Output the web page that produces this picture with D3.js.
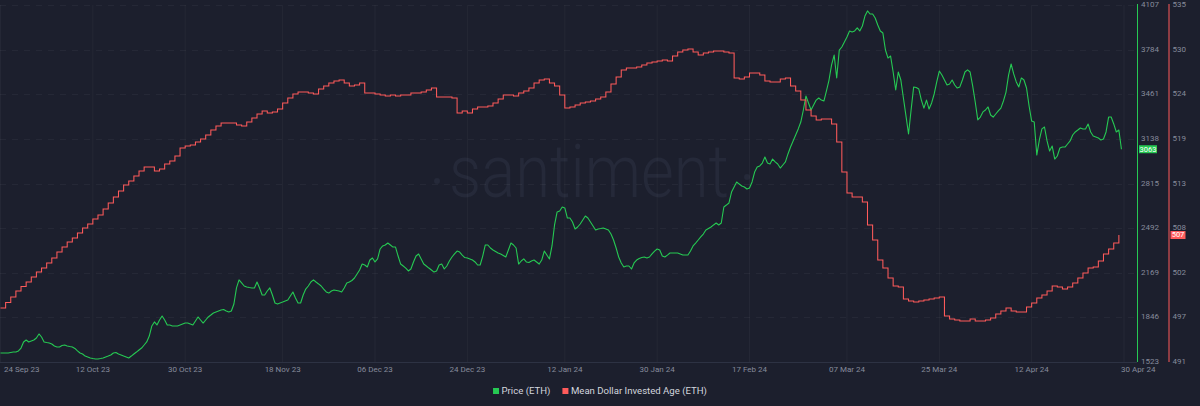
<!DOCTYPE html>
<html><head><meta charset="utf-8">
<script src="https://cdn.jsdelivr.net/npm/d3@7"></script>
<style>html,body{margin:0;padding:0;background:#1c1f2d;} svg{display:block;font-family:Roboto,"Open Sans",sans-serif;}</style>
</head><body><svg id="chart" width="1200" height="406"></svg>
<script>
// ---------- DATA ----------
const priceStart = "2023-09-24T00:00:00Z";
const priceStepHours = 12;
const priceValues = [
1588,1588,1588,1588,1592,1595,1595,1603,1624,1668,
1682,1668,1675,1682,1697,1726,1704,1668,1664,1661,
1653,1639,1632,1632,1642,1646,1639,1635,1632,1621,
1603,1588,1581,1566,1559,1552,1548,1545,1545,1548,
1552,1559,1566,1574,1588,1592,1581,1574,1566,1559,
1552,1566,1581,1595,1610,1624,1646,1668,1711,1784,
1813,1791,1827,1856,1827,1791,1791,1784,1784,1784,
1791,1798,1805,1805,1798,1791,1820,1849,1827,1805,
1827,1849,1863,1878,1885,1892,1899,1903,1892,1885,
1892,1943,2059,2117,2095,2073,2066,2062,2059,2059,
2102,2059,2008,2008,2037,2059,2008,1950,1943,1950,
1957,1965,1972,2001,2030,1986,1950,1950,2008,2051,
2073,2102,2117,2102,2088,2073,2051,2030,2022,2037,
2044,2041,2037,2030,2059,2095,2102,2113,2131,2160,
2189,2232,2225,2211,2261,2276,2247,2269,2341,2363,
2370,2384,2370,2355,2355,2290,2232,2218,2203,2182,
2196,2247,2290,2305,2269,2232,2218,2203,2189,2174,
2182,2225,2232,2196,2218,2254,2283,2305,2326,2319,
2297,2279,2276,2269,2261,2247,2225,2225,2290,2370,
2370,2348,2334,2323,2312,2305,2294,2283,2334,2384,
2370,2348,2232,2254,2269,2247,2243,2254,2261,2247,
2232,2261,2326,2297,2269,2363,2515,2609,2616,2645,
2638,2565,2565,2536,2486,2500,2522,2551,2580,2565,
2536,2507,2478,2486,2489,2493,2486,2478,2449,2406,
2348,2283,2240,2211,2218,2218,2196,2240,2261,2272,
2279,2283,2276,2283,2305,2326,2341,2334,2290,2283,
2297,2312,2312,2312,2312,2305,2297,2297,2297,2326,
2363,2384,2406,2428,2449,2478,2489,2500,2515,2529,
2515,2529,2645,2659,2674,2753,2790,2826,2811,2797,
2790,2775,2782,2826,2898,2934,2942,2963,3007,2963,
2956,2992,2971,2956,2927,2949,2971,3029,3079,3123,
3166,3210,3260,3347,3448,3398,3347,3383,3419,3434,
3419,3412,3485,3564,3673,3745,3579,3781,3803,3839,
3875,3919,3912,3919,3941,3919,3955,4027,4064,4042,
4042,4013,3962,3919,3904,3781,3723,3738,3622,3492,
3622,3564,3434,3304,3173,3347,3514,3510,3499,3419,
3361,3419,3354,3398,3463,3550,3629,3600,3564,3528,
3535,3564,3528,3506,3514,3564,3622,3637,3622,3521,
3405,3275,3296,3333,3347,3369,3311,3296,3318,3340,
3361,3412,3477,3600,3680,3608,3550,3514,3579,3564,
3506,3376,3267,3260,3021,3130,3210,3224,3123,3050,
3086,2992,3014,3072,3079,3079,3101,3123,3166,3188,
3202,3217,3210,3210,3246,3188,3159,3152,3144,3130,
3137,3188,3296,3296,3246,3188,3202,3063
];

const mdiaStart = "2023-09-24T00:00:00Z";
const mdiaStepHours = 24;
const mdiaValues = [
497.66,498.33,499.01,499.75,500.31,500.86,501.48,502.09,502.59,503.20,
503.82,504.56,505.17,505.79,506.28,506.90,507.52,508.01,508.63,509.12,
509.86,510.60,511.34,512.08,512.82,513.31,513.92,514.54,515.03,515.03,
514.54,514.79,515.40,515.77,516.39,517.38,517.62,517.75,518.12,518.49,
518.98,519.59,520.09,520.46,520.46,520.46,520.21,520.09,520.58,521.07,
521.57,521.94,521.69,521.81,522.18,522.92,523.54,524.03,524.28,524.28,
524.15,524.03,524.65,525.02,525.39,525.63,525.76,525.39,525.02,525.14,
525.39,524.15,524.15,524.03,523.91,523.78,523.91,523.78,523.91,523.91,
524.15,524.15,524.28,524.52,524.77,523.66,523.66,523.66,523.54,521.69,
521.94,521.69,522.18,522.43,522.43,522.55,522.92,523.41,523.91,523.91,
523.78,524.15,524.40,524.77,525.39,525.76,525.88,525.39,525.02,523.91,
522.31,522.43,522.68,522.92,523.05,523.17,523.41,523.66,524.28,525.26,
526.13,526.99,527.24,527.24,527.36,527.61,527.85,527.98,528.10,528.22,
528.10,528.71,529.21,529.45,529.58,529.21,528.84,529.08,529.21,529.33,
529.33,529.21,529.08,526.00,525.88,526.13,526.62,526.62,526.37,525.63,
525.51,525.51,525.88,526.00,525.02,524.40,523.29,522.06,521.32,520.83,
520.95,520.95,520.33,518.12,514.42,511.83,511.34,511.34,510.72,507.89,
506.04,503.57,502.59,501.35,500.37,500.24,498.76,498.52,498.40,498.52,
498.64,498.76,498.89,499.01,496.67,496.30,496.18,496.05,496.05,496.30,
496.05,496.05,496.18,496.42,496.92,497.29,497.66,497.29,497.16,497.16,
497.78,498.27,498.89,499.26,499.75,500.37,500.24,500.00,500.24,500.74,
501.35,501.97,502.59,502.71,503.45,504.31,504.93,505.67,506.65
];

const xTickDates = ["2023-09-24","2023-10-12","2023-10-30","2023-11-18","2023-12-06","2023-12-24","2024-01-12","2024-01-30","2024-02-17","2024-03-07","2024-03-25","2024-04-12","2024-04-30"];
const xTickLabels = ["24 Sep 23","12 Oct 23","30 Oct 23","18 Nov 23","06 Dec 23","24 Dec 23","12 Jan 24","30 Jan 24","17 Feb 24","07 Mar 24","25 Mar 24","12 Apr 24","30 Apr 24"];
const priceTicks = [1523,1846,2169,2492,2815,3138,3461,3784,4107];
const mdiaTicks = [491,496.5,502,507.5,513,518.5,524,529.5,535];
const seriesNames = ["Price (ETH)","Mean Dollar Invested Age (ETH)"];

// ---------- LAYOUT ----------
const colors = {bg:"#1c1f2d", green:"#26c953", red:"#ff5b5b", tick:"#868b9b", grid:"rgba(255,255,255,0.04)", legend:"#d3d6de", wm:"#252939"};
const plot = {left:0, right:1137, top:5, bottom:362};

const svg = d3.select("#chart");
svg.append("rect").attr("width",1200).attr("height",406).attr("fill",colors.bg);

const x = d3.scaleUtc()
  .domain([new Date("2023-09-24T00:00:00Z"), new Date("2024-04-30T00:00:00Z")])
  .range([0.5, 1124]);
const yP = d3.scaleLinear().domain([priceTicks[0], priceTicks[priceTicks.length-1]]).range([plot.bottom, plot.top]);
const yM = d3.scaleLinear().domain([mdiaTicks[0], mdiaTicks[mdiaTicks.length-1]]).range([plot.bottom, plot.top]);

const t0p = new Date(priceStart).getTime();
const priceData = priceValues.map((v,i)=>({t:new Date(t0p + i*priceStepHours*3600e3), v}));
const t0m = new Date(mdiaStart).getTime();
const mdiaData = mdiaValues.map((v,i)=>({t:new Date(t0m + i*mdiaStepHours*3600e3), v}));

// watermark
const wm = svg.append("g");
wm.append("text").attr("x",589).attr("y",197).attr("text-anchor","middle")
  .attr("font-size",74).attr("font-weight",300).attr("fill",colors.wm)
  .attr("textLength",280).attr("lengthAdjust","spacingAndGlyphs").text("santiment");
wm.append("circle").attr("cx",437).attr("cy",181).attr("r",3).attr("fill",colors.wm);
wm.append("circle").attr("cx",747).attr("cy",177).attr("r",3).attr("fill",colors.wm);

// gridlines
const grid = svg.append("g");
grid.selectAll("line.v").data(xTickDates).join("line")
  .attr("x1",d=>x(new Date(d+"T00:00:00Z"))).attr("x2",d=>x(new Date(d+"T00:00:00Z")))
  .attr("y1",plot.top).attr("y2",plot.bottom).attr("stroke",colors.grid).attr("stroke-width",1);
grid.selectAll("line.h").data(priceTicks.slice(1)).join("line")
  .attr("x1",plot.left).attr("x2",plot.right).attr("y1",d=>Math.round(yP(d))+0.5).attr("y2",d=>Math.round(yP(d))+0.5)
  .attr("stroke","rgba(255,255,255,0.045)").attr("stroke-dasharray","6,6");

// bottom axis line
svg.append("line").attr("x1",0).attr("x2",plot.right).attr("y1",plot.bottom+0.5).attr("y2",plot.bottom+0.5)
  .attr("stroke","#2d3243").attr("stroke-width",1);

// x tick labels
const xl = svg.append("g").attr("font-size",8).attr("fill",colors.tick);
xTickDates.forEach((d,i)=>{
  const px = x(new Date(d+"T00:00:00Z"));
  const t = xl.append("text").attr("y",369.5).attr("dominant-baseline","middle").text(xTickLabels[i]);
  if (i===0) t.attr("x",4).attr("text-anchor","start");
  else if (i===xTickDates.length-1) t.attr("x",px-3).attr("text-anchor","start");
  else t.attr("x",px).attr("text-anchor","middle");
});

// lines
svg.append("clipPath").attr("id","clip").append("rect")
  .attr("x",0).attr("y",0).attr("width",plot.right).attr("height",plot.bottom+1);
const gLines = svg.append("g").attr("clip-path","url(#clip)");
gLines.append("path").datum(priceData)
  .attr("d", d3.line().x(d=>x(d.t)).y(d=>yP(d.v)))
  .attr("fill","none").attr("stroke",colors.green).attr("stroke-width",1.1).attr("stroke-linejoin","round");
gLines.append("path").datum(mdiaData)
  .attr("d", d3.line().curve(d3.curveStepAfter).x(d=>x(d.t)).y(d=>yM(d.v)))
  .attr("fill","none").attr("stroke",colors.red).attr("stroke-width",1.05);

// right axes
const axP = 1137.5, axM = 1169;
svg.append("line").attr("x1",axP).attr("x2",axP).attr("y1",4).attr("y2",plot.bottom).attr("stroke",colors.green).attr("stroke-width",1);
svg.append("line").attr("x1",axM).attr("x2",axM).attr("y1",4).attr("y2",plot.bottom).attr("stroke",colors.red).attr("stroke-width",1);
const ap = svg.append("g").attr("font-size",8).attr("fill",colors.tick);
priceTicks.forEach(v=>{
  ap.append("text").attr("x",axP+3.5).attr("y",yP(v)).attr("dominant-baseline","middle").text(d3.format("d")(v));
});
mdiaTicks.forEach(v=>{
  ap.append("text").attr("x",axM+3.5).attr("y",yM(v)).attr("dominant-baseline","middle").text(Math.round(v));
});

// last-value badges
function badge(xPos, yPos, txt, fill, w){
  const g = svg.append("g");
  g.append("rect").attr("x",xPos).attr("y",yPos-4).attr("width",w).attr("height",8).attr("fill",fill);
  g.append("text").attr("x",xPos+w/2).attr("y",yPos+0.3).attr("text-anchor","middle").attr("dominant-baseline","middle")
    .attr("font-size",7.5).attr("fill","#ffffff").text(txt);
}
const lastP = priceData[priceData.length-1], lastM = mdiaData[mdiaData.length-1];
badge(axP+1.5, yP(lastP.v), Math.round(lastP.v), colors.green, 18);
badge(axM+1.5, yM(lastM.v), Math.round(lastM.v), colors.red, 15);

// legend
const lg = svg.append("g").attr("font-size",9.6).attr("fill",colors.legend);
const legendColors = [colors.green, colors.red];
const items = [];
seriesNames.forEach((n,i)=>{
  const it = lg.append("g");
  it.append("rect").attr("x",0).attr("y",-3).attr("width",6).attr("height",6).attr("fill",legendColors[i]);
  const t = it.append("text").attr("x",8.5).attr("y",0.3).attr("dominant-baseline","middle").text(n);
  const w = 8.5 + t.node().getComputedTextLength();
  items.push({it,w});
});
const gap = 12;
const total = items.reduce((s,d)=>s+d.w,0) + gap*(items.length-1);
let cx = 600 - total/2;
items.forEach(d=>{ d.it.attr("transform",`translate(${cx},391)`); cx += d.w + gap; });
</script></body></html>
